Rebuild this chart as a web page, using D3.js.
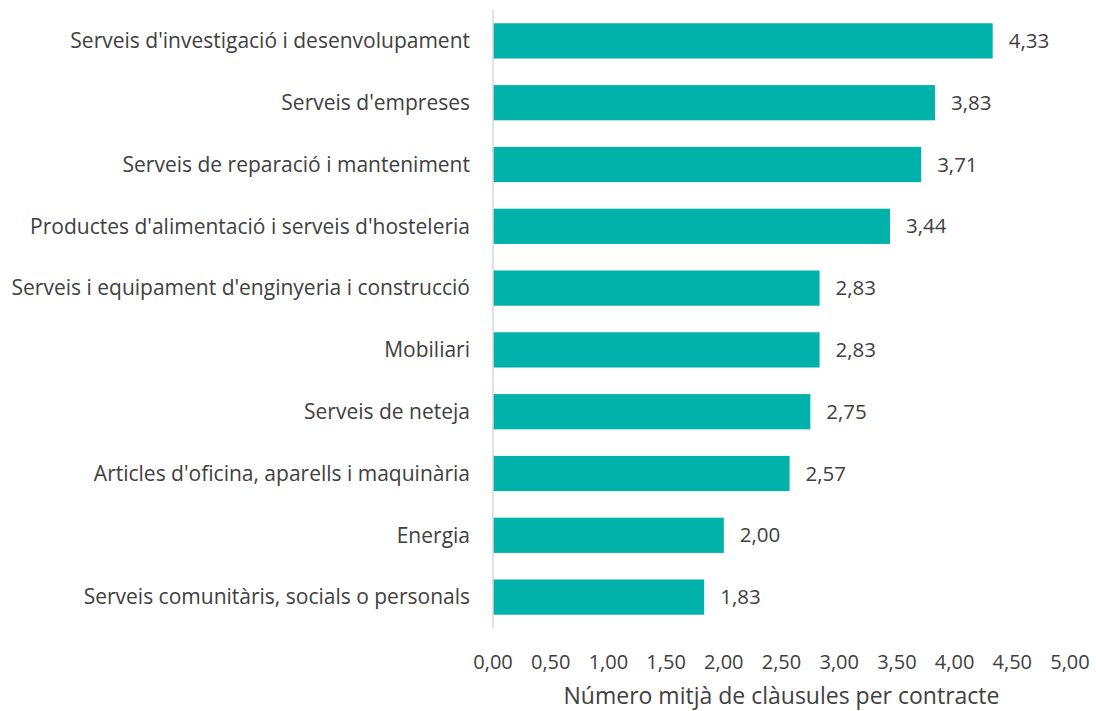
<!DOCTYPE html>
<html>
<head>
<meta charset="utf-8">
<script src="https://cdn.jsdelivr.net/npm/d3@7"></script>
<style>
  body { margin: 0; background: #fff; }
  text { font-family: "Open Sans", sans-serif; fill: #404040; }
</style>
</head>
<body>
<div id="chart"></div>
<script>
// categories, top to bottom
let categories = [
  "Serveis d'investigació i desenvolupament",
  "Serveis d'empreses",
  "Serveis de reparació i manteniment",
  "Productes d'alimentació i serveis d'hosteleria",
  "Serveis i equipament d'enginyeria i construcció",
  "Mobiliari",
  "Serveis de neteja",
  "Articles d'oficina, aparells i maquinària",
  "Energia",
  "Serveis comunitàris, socials o personals"
];
let values = [4.33, 3.83, 3.71, 3.44, 2.83, 2.83, 2.75, 2.57, 2.00, 1.83];
let xTicks = [0, 0.5, 1, 1.5, 2, 2.5, 3, 3.5, 4, 4.5, 5];
let xTitle = "Número mitjà de clàusules per contracte";

let fmt = function(v) { return v.toFixed(2).replace(".", ","); };

let W = 1096, H = 711;
let margin = {top: 10, right: 26, bottom: 83, left: 493};
let width = W - margin.left - margin.right,
    height = H - margin.top - margin.bottom;

let svg = d3.select("#chart").append("svg")
  .attr("width", W).attr("height", H);
let g = svg.append("g").attr("transform", "translate(" + margin.left + "," + margin.top + ")");

let x = d3.scaleLinear().domain([0, 5]).range([0, width]);
let y = d3.scaleBand().domain(categories).range([0, height]).paddingInner(0.43).paddingOuter(0.215);

//bars
g.selectAll(".bar")
  .data(values)
  .enter()
  .append("rect")
  .attr("class", "bar")
  .attr("x", 0)
  .attr("y", function(d, i) { return y(categories[i]); })
  .attr("width", function(d) { return x(d); })
  .attr("height", y.bandwidth())
  .style("fill", "#00B2A9");

//value labels
g.selectAll(".val")
  .data(values)
  .enter()
  .append("text")
  .attr("class", "val")
  .attr("x", function(d) { return x(d) + 16; })
  .attr("y", function(d, i) { return y(categories[i]) + y.bandwidth() / 2; })
  .attr("dy", "0.35em")
  .style("font-size", "20.5px")
  .text(fmt);

//category labels
g.selectAll(".cat")
  .data(categories)
  .enter()
  .append("text")
  .attr("class", "cat")
  .attr("x", -23)
  .attr("y", function(d) { return y(d) + y.bandwidth() / 2; })
  .attr("dy", "0.35em")
  .attr("text-anchor", "end")
  .style("font-size", "21px")
  .text(function(d) { return d; });

//vertical axis line
g.append("line")
  .attr("x1", 0).attr("x2", 0)
  .attr("y1", 0).attr("y2", height)
  .style("stroke", "#d9d9d9")
  .style("stroke-width", 1.5);

//x tick labels
g.selectAll(".tick")
  .data(xTicks)
  .enter()
  .append("text")
  .attr("class", "tick")
  .attr("x", function(d) { return x(d); })
  .attr("y", height + 41)
  .attr("text-anchor", "middle")
  .style("font-size", "20px")
  .text(fmt);

//x title
g.append("text")
  .attr("x", width / 2)
  .attr("y", height + 76)
  .attr("text-anchor", "middle")
  .style("font-size", "23px")
  .text(xTitle);
</script>
</body>
</html>
